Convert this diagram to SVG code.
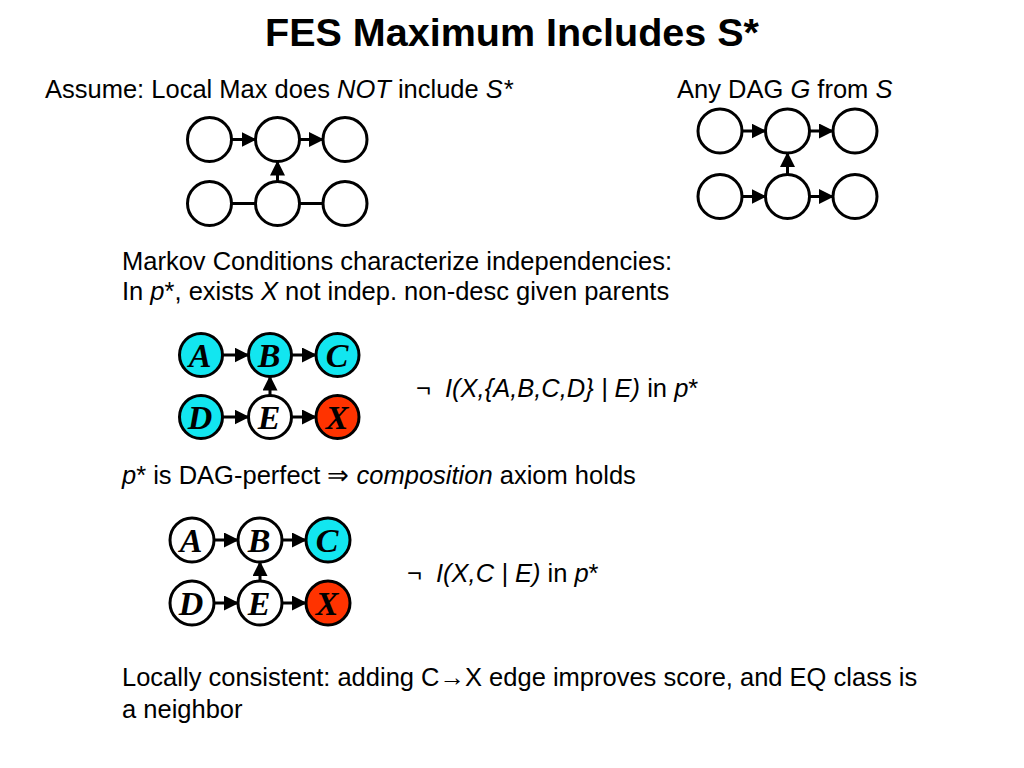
<svg xmlns="http://www.w3.org/2000/svg" width="1024" height="768" viewBox="0 0 1024 768">
<defs>
<marker id="ah" markerUnits="userSpaceOnUse" markerWidth="15" markerHeight="15" viewBox="0 0 15 15" refX="14" refY="7.5" orient="auto">
<path d="M0,0 L15,7.5 L0,15 z" fill="#000"/>
</marker>
<style>
.t{font-family:"Liberation Sans",Arial,sans-serif;font-size:25.5px;fill:#000}
.i{font-style:italic}
.ttl{font-family:"Liberation Sans",Arial,sans-serif;font-size:39.5px;font-weight:bold;fill:#000}
.n{fill:#fff;stroke:#000;stroke-width:3}
.cy{fill:#12E6F0}
.rd{fill:#FF3300}
.lb{font-family:"Liberation Serif","Times New Roman",serif;font-size:34px;font-weight:bold;font-style:italic;text-anchor:middle;fill:#000}
.e{stroke:#000;stroke-width:3;fill:none}
.a{stroke:#000;stroke-width:3;fill:none;marker-end:url(#ah)}
</style>
</defs>
<rect width="1024" height="768" fill="#fff"/>

<text class="ttl" x="512" y="46" text-anchor="middle">FES Maximum Includes S*</text>
<text class="t" x="45" y="98">Assume: Local Max does <tspan class="i">NOT</tspan> include <tspan class="i">S*</tspan></text>
<text class="t" x="677" y="98">Any DAG <tspan class="i">G</tspan> from <tspan class="i">S</tspan></text>
<text class="t" x="122" y="270">Markov Conditions characterize independencies:</text>
<text class="t" x="122" y="300">In <tspan class="i">p</tspan>*, exists <tspan class="i">X</tspan> not indep. non-desc given parents</text>
<text class="t" x="416" y="397">¬<tspan class="i" x="445">I(X,{A,B,C,D} | E)</tspan> in <tspan class="i">p</tspan>*</text>
<text class="t" x="122" y="484"><tspan class="i">p</tspan>* is DAG-perfect ⇒ <tspan class="i">composition</tspan> axiom holds</text>
<text class="t" x="407" y="582">¬<tspan class="i" x="436">I(X,C | E)</tspan> in <tspan class="i">p</tspan>*</text>
<text class="t" x="122" y="686">Locally consistent: adding C→X edge improves score, and EQ class is</text>
<text class="t" x="122" y="718">a neighbor</text>

<g id="connectors">
<!-- top-left graph -->
<line class="a" x1="231.5" y1="139.5" x2="255.5" y2="139.5"/>
<line class="a" x1="299.5" y1="139.5" x2="323" y2="139.5"/>
<line class="a" x1="277.5" y1="181.5" x2="277.5" y2="161.5"/>
<line class="e" x1="231.5" y1="203.5" x2="255.5" y2="203.5"/>
<line class="e" x1="299.5" y1="203.5" x2="323" y2="203.5"/>
<!-- top-right graph -->
<line class="a" x1="742" y1="131" x2="765.5" y2="131"/>
<line class="a" x1="809.5" y1="131" x2="833" y2="131"/>
<line class="a" x1="787.5" y1="174.5" x2="787.5" y2="153"/>
<line class="a" x1="742" y1="196.5" x2="765.5" y2="196.5"/>
<line class="a" x1="809.5" y1="196.5" x2="833" y2="196.5"/>
<!-- middle graph -->
<line class="a" x1="222.5" y1="355" x2="248.5" y2="355"/>
<line class="a" x1="291.5" y1="355" x2="316" y2="355"/>
<line class="a" x1="270" y1="395.5" x2="270" y2="376.5"/>
<line class="a" x1="222.5" y1="417" x2="248.5" y2="417"/>
<line class="a" x1="291.5" y1="417" x2="316" y2="417"/>
<!-- lower graph -->
<line class="a" x1="214" y1="540" x2="238" y2="540"/>
<line class="a" x1="282" y1="540" x2="306" y2="540"/>
<line class="a" x1="260" y1="581" x2="260" y2="562"/>
<line class="a" x1="214" y1="603" x2="238" y2="603"/>
<line class="a" x1="282" y1="603" x2="306" y2="603"/>
</g>

<!-- top-left graph nodes -->
<g id="tl1"><circle class="n" cx="209.5" cy="139.5" r="22"/></g>
<g id="tl2"><circle class="n" cx="277.5" cy="139.5" r="22"/></g>
<g id="tl3"><circle class="n" cx="345" cy="139.5" r="22"/></g>
<g id="tl4"><circle class="n" cx="209.5" cy="203.5" r="22"/></g>
<g id="tl5"><circle class="n" cx="277.5" cy="203.5" r="22"/></g>
<g id="tl6"><circle class="n" cx="345" cy="203.5" r="22"/></g>

<!-- top-right graph nodes -->
<g id="tr1"><circle class="n" cx="720" cy="131" r="22"/></g>
<g id="tr2"><circle class="n" cx="787.5" cy="131" r="22"/></g>
<g id="tr3"><circle class="n" cx="855" cy="131" r="22"/></g>
<g id="tr4"><circle class="n" cx="720" cy="196.5" r="22"/></g>
<g id="tr5"><circle class="n" cx="787.5" cy="196.5" r="22"/></g>
<g id="tr6"><circle class="n" cx="855" cy="196.5" r="22"/></g>

<!-- middle graph nodes -->
<g id="m-A"><circle class="n cy" cx="201" cy="355" r="21.5"/><text class="lb" x="200" y="367">A</text></g>
<g id="m-B"><circle class="n cy" cx="270" cy="355" r="21.5"/><text class="lb" x="269" y="367">B</text></g>
<g id="m-C"><circle class="n cy" cx="337.5" cy="355" r="21.5"/><text class="lb" x="337" y="367">C</text></g>
<g id="m-D"><circle class="n cy" cx="201" cy="417" r="21.5"/><text class="lb" x="200" y="429">D</text></g>
<g id="m-E"><circle class="n" cx="270" cy="417" r="21.5"/><text class="lb" x="269" y="429">E</text></g>
<g id="m-X"><circle class="n rd" cx="337.5" cy="417" r="21.5"/><text class="lb" x="337" y="429">X</text></g>

<!-- lower graph nodes -->
<g id="l-A"><circle class="n" cx="192" cy="540" r="22"/><text class="lb" x="191" y="552">A</text></g>
<g id="l-B"><circle class="n" cx="260" cy="540" r="22"/><text class="lb" x="259" y="552">B</text></g>
<g id="l-C"><circle class="n cy" cx="328" cy="540" r="22"/><text class="lb" x="327" y="552">C</text></g>
<g id="l-D"><circle class="n" cx="192" cy="603" r="22"/><text class="lb" x="191" y="615">D</text></g>
<g id="l-E"><circle class="n" cx="260" cy="603" r="22"/><text class="lb" x="259" y="615">E</text></g>
<g id="l-X"><circle class="n rd" cx="328" cy="603" r="22"/><text class="lb" x="327" y="615">X</text></g>
</svg>
